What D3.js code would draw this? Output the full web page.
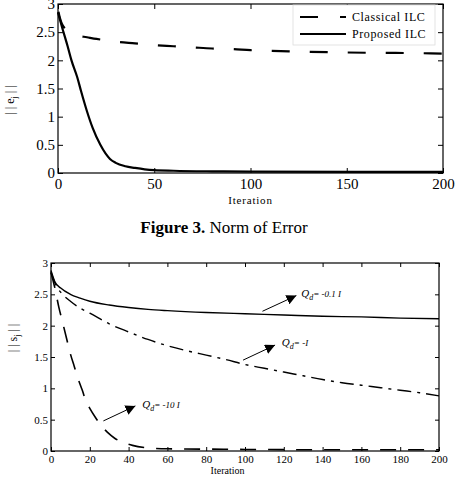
<!DOCTYPE html>
<html>
<head>
<meta charset="utf-8">
<script src="https://cdn.jsdelivr.net/npm/d3@7"></script>
<style>
  body { margin: 0; background: #fff; }
  svg { display: block; font-family: "Liberation Serif", "DejaVu Serif", serif; }
  .tick text { font-family: "Liberation Serif", "DejaVu Serif", serif; }
</style>
</head>
<body>
<svg width="456" height="478"></svg>
<script>
'use strict';

// Figure 3 data: norm of error per iteration
const classicalILC = [[0,2.9],[1,2.75],[2,2.65],[4,2.55],[7,2.48],[10,2.44],[15,2.41],[20,2.38],[30,2.33],[40,2.3],[50,2.27],[60,2.25],[70,2.23],[80,2.21],[90,2.2],[100,2.18],[120,2.16],[140,2.145],[160,2.135],[180,2.13],[200,2.12]];
const proposedILC = [[0,2.85],[2,2.6],[5,2.25],[7,2.0],[10,1.7],[12,1.45],[15,1.1],[18,0.8],[22,0.5],[27,0.25],[30,0.18],[35,0.12],[40,0.09],[45,0.065],[50,0.05],[60,0.04],[80,0.03],[100,0.025],[200,0.02]];
const topXTicks = [0, 50, 100, 150, 200];
const topYTicks = [0, 0.5, 1, 1.5, 2, 2.5, 3];

// second figure: norm of s for three Qd values
const q01 = [[0,2.88],[2,2.7],[5,2.6],[10,2.5],[15,2.44],[20,2.39],[30,2.33],[40,2.29],[50,2.26],[60,2.24],[80,2.21],[100,2.19],[120,2.17],[140,2.15],[160,2.14],[180,2.12],[200,2.11]];
const q1 = [[0,2.85],[3,2.62],[6,2.5],[10,2.39],[15,2.28],[20,2.2],[30,2.03],[40,1.9],[50,1.78],[60,1.68],[70,1.6],[80,1.53],[90,1.46],[100,1.38],[110,1.32],[120,1.26],[130,1.2],[140,1.14],[150,1.09],[160,1.05],[170,1.01],[180,0.97],[190,0.93],[200,0.88]];
const q10 = [[0,2.85],[2,2.6],[4,2.3],[6,2.05],[8,1.8],[10,1.55],[12,1.35],[14,1.15],[16,0.98],[18,0.8],[20,0.68],[23,0.53],[26,0.4],[29,0.3],[33,0.2],[37,0.14],[42,0.09],[50,0.05],[60,0.035],[80,0.03],[100,0.025],[150,0.02],[200,0.02]];
const botXTicks = [0, 20, 40, 60, 80, 100, 120, 140, 160, 180, 200];
const botYTicks = [0, 0.5, 1, 1.5, 2, 2.5, 3];

// annotations: [tailIter, tailVal, tipIter, tipVal, labelIter, labelVal, text after "Qd="]
const arrows = [
    [109, 2.23, 126.5, 2.48, 129, 2.46, "= -0.1 I"],
    [99, 1.45, 115.5, 1.69, 119, 1.67, "= -I"],
    [27, 0.48, 43.5, 0.72, 47, 0.69, "= -10 I"]
];

const svg = d3.select("svg");

const defs = svg.append("defs");
defs.append("marker")
    .attr("id", "head")
    .attr("viewBox", "0 0 10 10")
    .attr("refX", 10).attr("refY", 5)
    .attr("markerWidth", 10).attr("markerHeight", 10)
    .attr("markerUnits", "userSpaceOnUse")
    .attr("orient", "auto")
    .append("path").attr("d", "M0,0L10,5L0,10Z").attr("fill", "#000");

const serif = "Liberation Serif, DejaVu Serif, serif";

const drawFrame = (g, x, y, w, h, xTicks, yTicks, fontSize, tickLen, xPad) => {
    g.append("rect").attr("width", w).attr("height", h)
        .attr("fill", "none").attr("stroke", "#000").attr("stroke-width", 1.2);

    const fmt = d => String(d);
    const axes = [];
    axes.push(g.append("g").attr("transform", `translate(0,${h})`)
        .call(d3.axisBottom(x).tickValues(xTicks).tickFormat(fmt).tickSizeInner(-tickLen).tickSizeOuter(0).tickPadding(xPad)));
    axes.push(g.append("g")
        .call(d3.axisTop(x).tickValues(xTicks).tickSizeInner(-tickLen).tickSizeOuter(0).tickFormat("")));
    axes.push(g.append("g")
        .call(d3.axisLeft(y).tickValues(yTicks).tickFormat(fmt).tickSizeInner(-tickLen).tickSizeOuter(0).tickPadding(3)));
    axes.push(g.append("g").attr("transform", `translate(${w},0)`)
        .call(d3.axisRight(y).tickValues(yTicks).tickSizeInner(-tickLen).tickSizeOuter(0).tickFormat("")));

    axes.forEach(a => {
        a.attr("font-family", serif).attr("font-size", fontSize);
        a.select(".domain").remove();
        a.selectAll(".tick text").attr("fill", "#000");
        a.selectAll(".tick line").attr("stroke", "#000");
    });
};

// ---------- top chart ----------
const t = { left: 58, top: 4, width: 385, height: 169 };
const x1 = d3.scaleLinear().domain([0, 200]).range([0, t.width]);
const y1 = d3.scaleLinear().domain([0, 3]).range([t.height, 0]);
const g1 = svg.append("g").attr("transform", `translate(${t.left},${t.top})`);

const line1 = d3.line().curve(d3.curveMonotoneX).x(d => x1(d[0])).y(d => y1(d[1]));

g1.append("path").datum(classicalILC).attr("d", line1)
    .attr("fill", "none").attr("stroke", "#000").attr("stroke-width", 2.2)
    .attr("stroke-dasharray", "18,20").attr("stroke-dashoffset", -2);
g1.append("path").datum(proposedILC).attr("d", line1)
    .attr("fill", "none").attr("stroke", "#000").attr("stroke-width", 2.2);

drawFrame(g1, x1, y1, t.width, t.height, topXTicks, topYTicks, 15, 5, 5);

g1.append("text").attr("x", x1(100)).attr("y", t.height + 31)
    .attr("text-anchor", "middle").attr("font-size", 11).attr("letter-spacing", 0.8)
    .text("Iteration");

const yl1 = svg.append("text")
    .attr("transform", `translate(14,${t.top + 96}) rotate(-90)`)
    .attr("text-anchor", "middle").attr("font-size", 12);
yl1.append("tspan").text("| |  e");
yl1.append("tspan").attr("font-size", 8).attr("dy", 3).text("j");
yl1.append("tspan").attr("dy", -3).text(" | |");

// legend
const legend = g1.append("g").attr("transform", `translate(${293 - t.left},${5 - t.top})`);
legend.append("rect").attr("width", 142).attr("height", 40)
    .attr("fill", "#fff").attr("stroke", "#ddd").attr("stroke-width", 0.8);
const legendItems = [["Classical ILC", "18,22"], ["Proposed ILC", null]];
legendItems.forEach((it, i) => {
    const ly = 12 + i * 17;
    legend.append("line").attr("x1", 7).attr("x2", 53).attr("y1", ly).attr("y2", ly)
        .attr("stroke", "#000").attr("stroke-width", 2.2)
        .attr("stroke-dasharray", it[1]);
    legend.append("text").attr("x", 59).attr("y", ly + 4)
        .attr("font-size", 12).attr("letter-spacing", 0.6).text(it[0]);
});

// caption
const cap = svg.append("text").attr("x", 224).attr("y", 233)
    .attr("text-anchor", "middle").attr("font-size", 17);
cap.append("tspan").attr("font-weight", "bold").text("Figure 3.");
cap.append("tspan").text(" Norm of Error");

// ---------- bottom chart ----------
const b = { left: 51, top: 263, width: 388, height: 188 };
const x2 = d3.scaleLinear().domain([0, 200]).range([0, b.width]);
const y2 = d3.scaleLinear().domain([0, 3]).range([b.height, 0]);
const g2 = svg.append("g").attr("transform", `translate(${b.left},${b.top})`);

const line2 = d3.line().curve(d3.curveMonotoneX).x(d => x2(d[0])).y(d => y2(d[1]));

g2.append("path").datum(q01).attr("d", line2)
    .attr("fill", "none").attr("stroke", "#000").attr("stroke-width", 1.4);
g2.append("path").datum(q1).attr("d", line2)
    .attr("fill", "none").attr("stroke", "#000").attr("stroke-width", 1.4)
    .attr("stroke-dasharray", "14,6,3,6");
g2.append("path").datum(q10).attr("d", line2)
    .attr("fill", "none").attr("stroke", "#000").attr("stroke-width", 1.6)
    .attr("stroke-dasharray", "16,12");

drawFrame(g2, x2, y2, b.width, b.height, botXTicks, botYTicks, 11, 4, 4);

g2.append("text").attr("x", x2(91)).attr("y", b.height + 23)
    .attr("text-anchor", "middle").attr("font-size", 10)
    .text("Iteration");

const yl2 = svg.append("text")
    .attr("transform", `translate(17,${b.top + 75}) rotate(-90)`)
    .attr("text-anchor", "middle").attr("font-size", 12);
yl2.append("tspan").text("| |  s");
yl2.append("tspan").attr("font-size", 8).attr("dy", 3).text("j");
yl2.append("tspan").attr("dy", -3).text(" | |");

arrows.forEach(a => {
    g2.append("line")
        .attr("x1", x2(a[0])).attr("y1", y2(a[1]))
        .attr("x2", x2(a[2])).attr("y2", y2(a[3]))
        .attr("stroke", "#000").attr("stroke-width", 1)
        .attr("marker-end", "url(#head)");
    const tx = g2.append("text").attr("x", x2(a[4])).attr("y", y2(a[5]))
        .attr("font-size", 11).attr("font-style", "italic");
    tx.append("tspan").text("Q");
    tx.append("tspan").attr("font-size", 8).attr("dy", 3).text("d");
    tx.append("tspan").attr("dy", -3).attr("font-size", 9).text(a[6]);
});
</script>
</body>
</html>
